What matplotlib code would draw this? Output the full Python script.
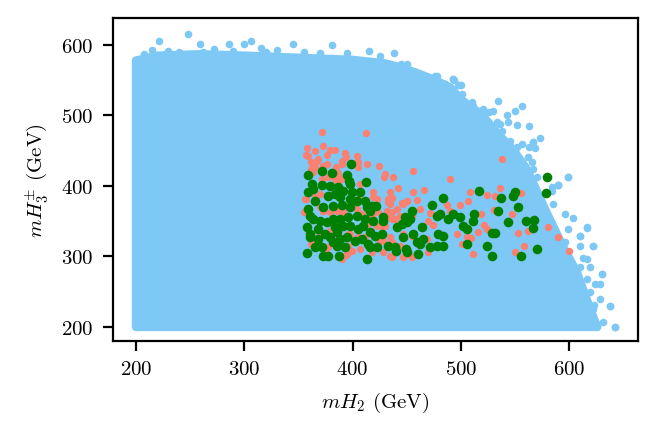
import matplotlib
matplotlib.use("Agg")
import matplotlib.pyplot as plt
import numpy as np

plt.rcParams['font.family'] = 'serif'
plt.rcParams['font.serif'] = ['cmr10']
plt.rcParams['mathtext.fontset'] = 'cm'
plt.rcParams['axes.formatter.use_mathtext'] = True
plt.rcParams['font.size'] = 7.5

# outline of the dense scan region (mH2, mH3+-) in GeV
scan_edge_x = [200, 200, 220, 260, 300, 350, 400, 430, 445, 460, 475, 490, 500,
               520, 536, 548, 561, 568, 579, 594, 607, 616, 622, 626]
scan_edge_y = [200, 578, 585, 587, 585, 582, 579, 574, 568, 560, 551, 540, 523,
               500, 471, 452, 424, 400, 363, 315, 278, 240, 215, 200]

# loose scan points outside the dense region
scan_x = [248, 221, 259, 285.5, 299.6, 306, 345, 381, 415, 438, 215, 207, 272,
          330, 315, 445, 450, 458, 469, 478, 494, 486, 500.5, 511, 520, 534,
          556, 550, 542.5, 485, 493, 499, 230, 240, 262, 290, 320, 355, 370,
          395, 425, 552, 563, 573, 567, 568, 599, 590, 616, 610, 622, 613, 630,
          628, 638, 623, 619, 642,
          448.4, 457.7, 465.3, 471.5, 476.1, 485.4, 492.4, 497.7, 500.7, 506.9,
          510.0, 516.1, 520.8, 526.3, 530.0, 533.1, 536.1, 537.7, 543.8, 545.4,
          551.5, 556.1, 563.2, 567.0, 562.3, 565.4, 567.0, 570.0, 583.9, 590.0,
          599.2, 589.9, 583.8, 585.3, 596.1, 603.2, 599.2, 609.9, 596.1, 609.9,
          616.1, 609.9, 619.2, 616.1, 623.8, 619.2, 628.4, 622.3, 631.5, 637.6,
          642.3, 616.1, 622.3, 629.9]
scan_y = [615, 605, 601, 601, 602, 606, 601, 600, 592, 589, 593, 587, 595,
          593, 596, 573, 573, 561, 550, 556, 550, 543, 543, 514, 507, 520,
          513, 507, 501, 545, 552, 543, 592, 590, 590, 592, 590, 590, 588,
          588, 585, 486, 485, 468, 462, 454, 413, 401, 341, 329, 315, 298, 275,
          261, 230, 231, 207, 200,
          563.6, 558.8, 551.7, 547.0, 556.5, 544.6, 551.7, 543.2, 530.5, 516.3,
          518.6, 506.8, 509.2, 504.5, 506.8, 490.3, 487.9, 478.5, 490.3, 464.3,
          454.8, 459.5, 454.8, 461.9, 440.6, 433.5, 424.1, 412.2, 398.1, 401.4,
          412.2, 401.4, 393.4, 374.4, 360.3, 354.1, 339.0, 328.6, 320.1, 315.3,
          296.4, 284.6, 284.6, 268.1, 261.0, 249.2, 239.7, 225.5, 206.6, 230.2,
          199.5, 341.3, 315.3, 275.2]

# salmon points
red_x = [372.1, 412.7, 358.2, 365.3, 373.0, 379.1, 383.8, 393.0, 403.8, 357.0,
         359.1, 366.8, 363.7, 376.1, 389.9, 389.9, 403.8, 413.0, 424.7, 429.9,
         437.6, 456.1, 489.9, 361.3, 385.3, 371.4, 383.8, 386.8, 406.8, 419.2,
         434.5, 436.1, 442.2, 422.2, 456.1, 466.2, 459.2, 445.3, 449.9, 434.5,
         508.4, 499.2, 506.9, 369.9, 365.3, 373.0, 379.1, 385.3, 356.1, 417.6,
         423.8, 431.5, 440.7, 434.5, 443.8, 436.1, 486.9, 489.9, 469.9, 474.6,
         462.2, 471.5, 496.1, 500.7, 505.3, 391.4, 422.2, 429.9, 397.6, 411.5,
         434.5, 425.3, 428.4, 406.8, 374.5, 399.1, 363.7, 389.9, 434.5, 446.9,
         454.5, 468.4, 469.9, 417.6, 394.5, 379.1, 369.9, 403.8, 355.1,
         538.3, 524.4, 531.5, 536.1, 555.5, 518.6, 530.6, 547.5, 521.6, 523.8,
         516.1, 553.0, 562.3, 580.7, 590.0, 600.1, 511.5, 550.0, 558.6, 509.3,
         376.7, 368.1, 394.2, 361.9, 365.0, 372.7, 385.0, 380.4, 377.3, 363.5,
         386.5, 389.6, 402.5, 357.3, 369.6, 372.7, 366.5, 389.6, 398.9, 380.4,
         378.8, 395.8, 361.9, 377.3, 395.8, 397.3, 394.2, 375.8, 388.1, 405.3,
         419.1, 433.0, 433.0, 449.9, 446.8, 436.1, 439.1, 433.0, 454.5, 414.5,
         426.8, 446.8, 454.5, 428.4, 436.1, 443.8, 405.3, 436.1, 449.9, 408.4,
         404.7, 405.3, 429.3]
red_y = [476.1, 474.7, 453.4, 450.1, 456.2, 451.0, 451.5, 446.3, 443.0, 443.9,
         442.0, 435.9, 431.2, 431.2, 435.9, 431.2, 434.5, 431.2, 427.9, 417.0,
         412.3, 420.8, 409.9, 424.1, 419.4, 409.9, 409.9, 405.2, 402.8, 391.0,
         391.0, 382.5, 396.7, 381.5, 391.0, 394.8, 380.6, 375.9, 379.2, 374.4,
         391.9, 373.0, 379.2, 388.6, 383.9, 365.0, 362.6, 365.0, 381.5, 357.9,
         362.6, 365.0, 367.3, 357.9, 357.9, 353.2, 373.0, 365.0, 350.8, 344.6,
         367.3, 361.7, 331.9, 317.7, 327.2, 362.6, 343.7, 343.7, 331.9, 327.2,
         327.2, 322.4, 305.9, 310.6, 308.2, 308.2, 317.7, 296.4, 301.2, 298.8,
         298.8, 324.8, 305.9, 305.9, 303.5, 336.6, 331.9, 367.3, 362.6,
         438.3, 387.3, 385.4, 396.7, 390.1, 360.3, 366.0, 360.3, 344.7, 339.0,
         335.2, 333.4, 336.7, 341.4, 327.2, 307.3, 303.6, 305.9, 315.4, 325.8,
         443.9, 438.3, 440.6, 433.5, 426.4, 428.8, 426.4, 419.3, 412.3, 419.3,
         417.0, 409.9, 431.2, 381.6, 369.8, 365.1, 381.6, 369.8, 374.5, 348.5,
         332.0, 332.0, 317.8, 313.1, 315.4, 308.3, 301.4, 298.9, 343.8, 381.6,
         384.0, 381.6, 376.9, 379.2, 374.5, 362.7, 353.2, 355.6, 358.0, 346.1,
         343.8, 332.0, 329.6, 322.5, 320.1, 315.4, 327.2, 298.9, 303.6, 360.3,
         433.5, 427.4, 412.3]

# green points
green_x = [398.5, 372.1, 380.7, 394.5, 412.4, 359.1, 397.0, 397.6, 362.2, 371.4,
           363.7, 359.1, 379.1, 386.8, 377.6, 383.8, 391.4, 399.1, 406.8, 388.4,
           397.6, 403.8, 411.5, 417.6, 421.6, 365.3, 359.1, 360.7, 373.0, 382.2,
           389.9, 397.6, 413.0, 416.1, 363.7, 357.6, 369.9, 376.1, 382.2, 388.4,
           396.1, 403.8, 411.5, 419.2, 428.4, 428.4, 360.7, 368.4, 374.5, 383.8,
           385.3, 391.4, 397.6, 405.3, 409.9, 416.1, 420.7, 426.8, 360.7, 368.4,
           379.1, 382.2, 388.4, 394.5, 402.2, 408.4, 414.5, 422.2, 365.3, 371.4,
           385.3, 393.0, 416.1, 373.0, 377.6, 387.8, 357.6, 413.6, 433.0, 439.2,
           440.1, 449.9, 460.7, 449.3, 440.7, 445.3, 448.4, 449.9, 453.0, 454.5,
           463.8, 446.9, 456.1, 459.2, 465.3, 462.2, 471.5, 473.6, 477.6, 480.7,
           483.8, 488.4, 493.0, 499.2, 502.3, 505.3, 505.3, 479.2, 483.8, 477.6,
           483.8, 579.2, 578.6, 517.0, 550.0, 547.8, 537.0, 553.0, 534.6, 512.4,
           511.5, 543.8, 560.1, 567.8, 566.9, 528.4, 531.5, 523.8, 529.0, 555.5,
           570.6]
green_y = [431.2, 420.8, 418.4, 415.6, 405.2, 415.6, 407.5, 402.8, 402.8, 401.9,
           395.7, 391.0, 400.4, 398.1, 386.3, 388.6, 393.3, 391.0, 391.0, 383.9,
           381.5, 379.2, 379.2, 371.1, 371.1, 379.2, 367.3, 357.9, 369.7, 372.1,
           373.0, 369.7, 369.7, 365.0, 353.2, 341.3, 350.8, 348.4, 353.2, 353.2,
           355.5, 357.9, 353.2, 350.8, 355.5, 350.8, 331.9, 339.0, 331.9, 341.3,
           334.2, 343.7, 343.7, 339.0, 343.7, 334.2, 329.5, 331.9, 327.2, 324.8,
           327.2, 320.1, 324.8, 327.2, 322.4, 324.8, 317.7, 313.0, 313.0, 313.0,
           315.3, 313.0, 313.0, 301.2, 301.2, 301.2, 305.0, 296.4, 315.3, 313.0,
           308.2, 305.9, 303.5, 310.6, 341.3, 346.1, 355.5, 348.4, 353.2, 365.0,
           341.3, 327.2, 331.9, 320.1, 324.8, 317.7, 313.0, 373.0, 357.9, 360.3,
           382.5, 353.2, 360.3, 355.5, 343.7, 339.0, 317.7, 331.9, 329.5, 315.3,
           315.3, 412.3, 390.1, 392.5, 391.0, 385.4, 382.5, 369.8, 364.1, 360.3,
           350.8, 348.5, 349.9, 351.8, 340.0, 333.4, 333.4, 315.4, 301.2, 301.2,
           310.7]

BLUE = '#7ec8f6'

fig = plt.figure(figsize=(3.29, 2.175), dpi=200)
ax = fig.add_axes([0.1717, 0.2138, 0.7979, 0.7425])

ax.fill(scan_edge_x, scan_edge_y, facecolor=BLUE, edgecolor=BLUE,
        linewidth=3.0, joinstyle='round', zorder=1)
ax.scatter(scan_x, scan_y, s=7.5, color=BLUE, linewidths=0, zorder=2)
ax.scatter(red_x, red_y, s=7, color='salmon', linewidths=0, zorder=3)
ax.scatter(green_x, green_y, s=12, color='green', linewidths=0, zorder=4)

ax.set_xlim(178.8, 663.5)
ax.set_ylim(180.1, 638.3)
ax.set_xticks([200, 300, 400, 500, 600])
ax.set_yticks([200, 300, 400, 500, 600])
ax.set_xlabel(r'$mH_2$ (GeV)')
ax.set_ylabel(r'$mH_3^{\pm}$ (GeV)')

fig.savefig('out.png', dpi=200)
